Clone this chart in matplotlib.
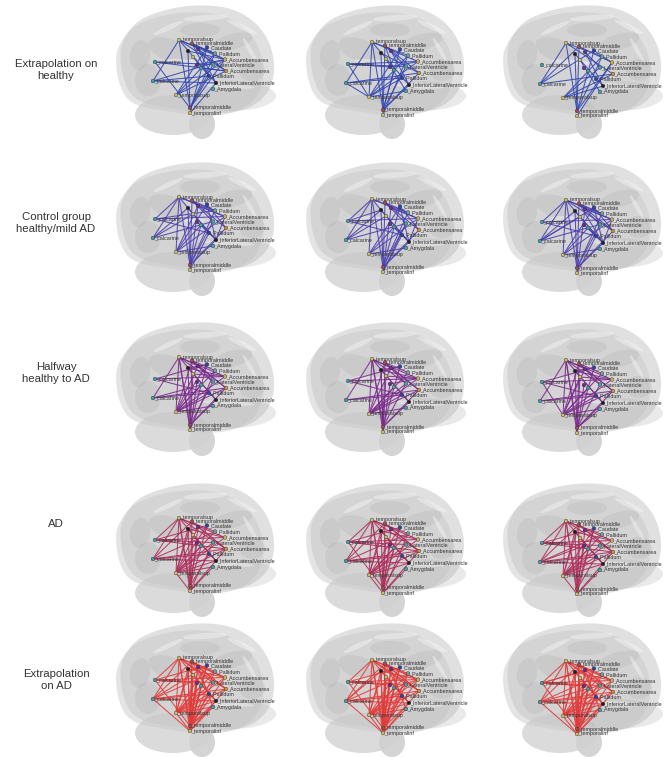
import numpy as np
import matplotlib
matplotlib.use("Agg")
import matplotlib.pyplot as plt
from matplotlib.patches import Ellipse, Polygon

plt.rcParams['font.family'] = ['Liberation Sans', 'DejaVu Sans']

# ---------------- data ----------------
row_labels = ["Extrapolation on\nhealthy", "Control group\nhealthy/mild AD",
              "Halfway\nhealthy to AD", "AD", "Extrapolation\non AD"]
row_colors = ["#3346b2", "#4a3fae", "#7a2b8c", "#ad2f5c", "#e23a3a"]

node_codes = ["TS1", "TM1", "PU", "TH", "CA", "PA", "HI", "CR", "CL", "LV",
              "TH2", "HI2", "AC1", "AC2", "PA2", "ILV", "AM", "TS2", "TM2", "TI"]
node_labels = ["_temporalsup", "_temporalmiddle", "", "", "_Caudate", "_Pallidum", "",
               "_calcarine", "_calcarine", "_LateralVentricle", "", "",
               "_Accumbensarea", "_Accumbensarea", "_Pallidum",
               "_InferiorLateralVentricle", "_Amygdala", "_temporalsup",
               "_temporalmiddle", "_temporalinf"]
node_x = [69, 82, 78, 88, 97, 105, 83, 45, 43, 103, 87, 91, 115, 116, 99, 106, 103, 66, 80, 80]
node_y = [40, 43.5, 51, 49, 47.5, 53.5, 57, 62, 81, 64.5, 65, 68, 59.5, 71, 76, 83, 89, 95, 108, 113]
node_colors = ["#c9c160", "#a24c4c", "#1e1e1e", "#6b2a8c", "#2a45a8", "#6fa0a0", "#c9c160",
               "#3fa0a6", "#3fa0a6", "#3fa6a6", "#6b2a8c", "#3fa6a6", "#c9b050",
               "#d8902c", "#2a45a8", "#1e1e1e", "#3fa6a6", "#c9c160", "#a24c4c", "#c9c160"]

edges_r1 = [
    "TS1-CL TS1-TM2 TS1-AC1 TS1-AC2 TS1-ILV TM1-AC1 TM1-LV TM1-PA2 CR-LV CR-TM2 CR-AC2 "
    "CL-PA2 CL-ILV CL-AC1 PU-TM2 TH-AC2 CA-TS2 PA-TM2 HI-PA2 LV-TM2 AC1-TM2 AC2-TS2 "
    "PA2-TM2 ILV-TI TH2-AC1 HI2-AC2 TS2-AC1 TS2-PA TH-ILV PU-AC1 TM1-PA TS1-PA CA-TI",
    "TS1-CL TS1-TM2 TS1-AC1 TS1-ILV TM1-AC2 TM1-LV TM1-TI CR-LV CR-TS2 CR-AC1 CL-PA2 "
    "CL-AC2 CL-TS2 PU-TM2 PU-AC2 TH-ILV CA-TS2 CA-TM2 PA-TS2 HI-AM LV-TM2 AC1-TS2 "
    "AC2-TM2 PA2-TS2 ILV-TM2 TH2-AC1 HI2-TM2 TS2-AM TS1-PA TM1-HI2 CR-TH2 TS1-TS2 PA-TI",
    "CL-TM1 CL-AC2 CL-CA CL-TS1 TS1-TM2 TM1-TM2 PU-TM2 TH-ILV CA-TM2 PA-TS2 AC1-TM2 "
    "AC2-TS2 ILV-TS2 TS1-AC2 CA-AC1 TH-LV HI-AM TS2-LV PA-TM2 PU-ILV TS1-PA AC1-TI TM1-AC1",
]
edges_r2 = ("TS1-CR TS1-CL TS1-TM2 TS1-TS2 TS1-AC1 TM1-AC2 TM1-PA TM1-TI PU-CL PU-TM2 "
            "PU-ILV TH-AC1 TH-TI CA-TS2 CA-AC2 PA-TM2 HI-ILV CR-AC1 CR-PA2 CL-LV CL-HI "
            "LV-TM2 AC1-TS2 AC2-TM2 PA2-TI ILV-TM2 AM-TS2 TS2-HI2 TH2-PA2 HI2-ILV TS1-HI "
            "TM1-LV CA-ILV AC1-ILV TS1-PA")
edges_r3 = ("TS1-CL TS1-TS2 TS1-TM2 TS1-TI TS1-AC1 TS1-ILV TS1-LV TM1-TS2 TM1-TI TM1-AC2 "
            "TM1-PA PU-TM2 PU-ILV PU-AC1 TH-TS2 TH-AC2 CA-TM2 CA-CR PA-TS2 HI-TI HI-AC1 "
            "CR-AC1 CR-PA2 CL-AC2 CL-PA2 LV-TM2 AC1-TS2 AC2-TM2 PA2-TS2 ILV-TM2 AM-TS2 "
            "TH2-TI HI2-TS2 TS2-AC2 TM1-LV PU-CA TS1-TH")
edges_r4 = ("TS1-CR TS1-CL TS1-TS2 TS1-TM2 TS1-TI TS1-AC1 TS1-AC2 TS1-ILV TM1-TS2 TM1-TI "
            "TM1-AC2 PU-TS2 PU-TM2 PU-ILV PU-AC1 TH-TI TH-AC2 CA-TS2 CA-TM2 CA-CR PA-TS2 "
            "PA-CL HI-TM2 HI-ILV CR-AC1 CR-LV CR-AC2 CL-AC2 CL-ILV CL-PA2 CL-TM1 LV-TS2 "
            "AC1-TS2 AC2-TI AC2-TS2 PA2-TM2 ILV-TS2 AM-TI TH2-TM2 HI2-TS2 TS2-TI TS1-PA")
edges_r5 = ("TS1-CR TS1-CL TS1-TS2 TS1-TM2 TS1-TI TS1-AC1 TS1-AC2 TS1-ILV TS1-PA TS1-LV "
            "TM1-TS2 TM1-TM2 TM1-TI TM1-AC2 TM1-PA2 TM1-CL PU-TS2 PU-TM2 PU-TI PU-ILV "
            "PU-AC1 TH-TM2 TH-TI TH-AC2 TH-AM CA-TS2 CA-TM2 CA-TI CA-CR PA-TM2 PA-TS2 "
            "PA-CL HI-TM2 HI-TI HI-ILV CR-AC1 CR-LV CR-TM2 CL-AC2 CL-ILV CL-TI CL-PA2 "
            "LV-TS2 LV-TI AC1-TM2 AC1-TS2 AC2-TI AC2-TS2 PA2-TM2 PA2-TS2 ILV-TM2 ILV-TS2 "
            "AM-TS2 AM-TI TH2-TM2 HI2-TI TH2-CR HI2-TS2 TS2-TI TM1-AC1")
edges_col_extra = [
    [],
    ["PA-CR TH-TS2 HI2-TM2", "CA-TM2 LV-TI PU-CR", "TM1-ILV CA-CL AC2-TS1"],
    ["CA-TS2 PA-TI HI2-CL", "TH2-AC1 LV-TS2 PU-TI", "CR-TS2 AM-TM2 HI-TS2"],
    ["TH-TS2 LV-TI AM-TS2", "PA-TI HI2-TM2 CR-TM2", "TH2-CL CA-TI PA2-TS2"],
    ["TH2-TI CA-CL AM-TM2", "PU-CL PA-TI HI2-AC1", "LV-CL TH-CR PA2-TI"],
]

# ---------------- layout ----------------
W, H = 669, 757
col_x = [110, 300, 497]
col_node_shift = [(0, 0), (3, 2), (0, 3)]
row_y = [0, 157, 317, 478, 618]
PW, PH = 180, 150

fig = plt.figure(figsize=(W / 100, H / 100), dpi=100)
fig.patch.set_facecolor("white")

row_label_y = [70, 223, 373, 524, 680]
for lab, yy in zip(row_labels, row_label_y):
    fig.text(56 / W, 1 - yy / H, lab, ha="center", va="center",
             fontsize=8.2, color="#333333", linespacing=1.35)


def chaikin(pts, n=4):
    p = np.asarray(pts, float)
    for _ in range(n):
        q = np.roll(p, -1, axis=0)
        p = np.stack([0.75 * p + 0.25 * q, 0.25 * p + 0.75 * q], axis=1).reshape(-1, 2)
    return p


cerebrum = chaikin([(12, 42), (25, 22), (47, 12), (73, 6), (100, 5), (124, 9), (146, 22),
                    (160, 42), (165, 65), (162, 85), (152, 100), (135, 110), (110, 114),
                    (85, 112), (60, 108), (35, 104), (20, 95), (12, 75), (10, 55)])


def draw_brain(ax):
    ax.add_patch(Ellipse((63, 115), 76, 40, fc="#d8d8d8", ec="none", alpha=0.9, zorder=1))
    ax.add_patch(Ellipse((92, 124), 26, 30, fc="#d0d0d0", ec="none", alpha=0.9, zorder=1))
    back = cerebrum * 0.96 + np.array([-4, 7])
    ax.add_patch(Polygon(back, closed=True, fc="#cbcbcb", ec="none", alpha=0.5, zorder=1))
    ax.add_patch(Polygon(cerebrum, closed=True, fc="#c8c8c8", ec="none", alpha=0.55, zorder=1))
    ax.add_patch(Ellipse((120, 96), 92, 30, fc="#b8b8b8", ec="none", alpha=0.3, zorder=1))
    for (cx, cy, w, h, a) in [(60, 50, 45, 22, 20), (122, 42, 42, 16, -15),
                              (38, 80, 26, 32, 0), (142, 70, 26, 22, 0), (90, 30, 40, 14, 0),
                              (30, 55, 20, 30, 10)]:
        ax.add_patch(Ellipse((cx, cy), w, h, angle=a, fc="#8a8a8a", ec="none", alpha=0.13, zorder=1))
    for (cx, cy, w, h, a) in [(95, 18, 44, 6, -4), (132, 27, 32, 5, 25), (58, 28, 32, 5, -25),
                              (118, 86, 52, 5, 3), (75, 62, 40, 5, 5), (140, 50, 28, 4, 60)]:
        ax.add_patch(Ellipse((cx, cy), w, h, angle=a, fc="white", ec="none", alpha=0.35, zorder=1))


idx = {c: i for i, c in enumerate(node_codes)}

for r in range(5):
    for c in range(3):
        ax = fig.add_axes([col_x[c] / W, 1 - (row_y[r] + PH) / H, PW / W, PH / H])
        ax.set_xlim(0, PW)
        ax.set_ylim(PH, 0)
        ax.axis("off")
        draw_brain(ax)
        nx = np.array(node_x, float) + col_node_shift[c][0]
        ny = np.array(node_y, float) + col_node_shift[c][1]
        if r == 0:
            es = edges_r1[c]
        else:
            es = [edges_r2, edges_r3, edges_r4, edges_r5][r - 1] + " " + edges_col_extra[r][c]
        seen = set()
        for e in es.split():
            a, b = e.split("-")
            key = tuple(sorted((a, b)))
            if key in seen:
                continue
            seen.add(key)
            i, j = idx[a], idx[b]
            ax.plot([nx[i], nx[j]], [ny[i], ny[j]], color=row_colors[r], lw=0.75,
                    alpha=0.9, zorder=3, solid_capstyle="round")
        ax.scatter(nx, ny, s=7, c=node_colors, edgecolors="#333333", linewidths=0.3, zorder=4)
        for k, lab in enumerate(node_labels):
            if lab:
                ax.text(nx[k] + 1.2, ny[k], lab, fontsize=3.9, color="#333333",
                        va="center", ha="left", zorder=5)

fig.savefig("out.png", dpi=100, facecolor="white")
